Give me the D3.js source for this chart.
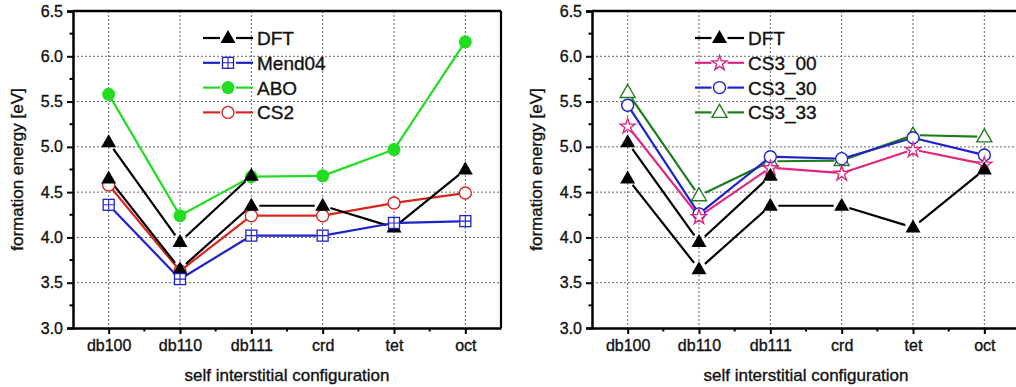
<!DOCTYPE html>
<html>
<head>
<meta charset="utf-8">
<script src="https://cdn.jsdelivr.net/npm/d3@7"></script>
<title>formation energy</title>
<style>
body { margin: 0; background: #fff; }
text { font-family: "Liberation Sans", Arial, sans-serif; fill: #111; stroke: #111; stroke-width: 0.35px; }
</style>
</head>
<body>
<script>

// data
var categories = ["db100", "db110", "db111", "crd", "tet", "oct"];
var yTickValues = [3.0, 3.5, 4.0, 4.5, 5.0, 5.5, 6.0, 6.5];

var dft     = [4.65, 3.65, 4.35, 4.35, 4.11, 4.75];
var dftHigh = [5.05, 3.95, 4.68, null, null, null];

var mend04 = [4.36, 3.54, 4.02, 4.02, 4.16, 4.18];
var abo    = [5.58, 4.24, 4.67, 4.68, 4.97, 6.16];
var cs2    = [4.58, 3.63, 4.24, 4.24, 4.38, 4.49];

var cs3_00 = [5.23, 4.23, 4.77, 4.71, 4.97, 4.81];
var cs3_30 = [5.46, 4.26, 4.89, 4.87, 5.10, 4.91];
var cs3_33 = [5.60, 4.46, 4.84, 4.85, 5.13, 5.11];

var width = 1016,
    height = 387;

var svg = d3.select("body")
  .append("svg")
  .attr("width", width)
  .attr("height", height);

// marker drawing
function marker(g, type, color, x, y) {
  if (type == "tri") {
    g.append("path")
      .attr("d", "M" + x + "," + (y - 8) + "L" + (x + 7.5) + "," + (y + 5) + "L" + (x - 7.5) + "," + (y + 5) + "Z")
      .attr("fill", color);
  } else if (type == "triOpen") {
    g.append("path")
      .attr("d", "M" + x + "," + (y - 8) + "L" + (x + 7.5) + "," + (y + 5) + "L" + (x - 7.5) + "," + (y + 5) + "Z")
      .attr("fill", "#fff").attr("stroke", color).attr("stroke-width", 1.4);
  } else if (type == "dot") {
    g.append("circle").attr("cx", x).attr("cy", y).attr("r", 6.5).attr("fill", color);
  } else if (type == "circle") {
    g.append("circle").attr("cx", x).attr("cy", y).attr("r", 6)
      .attr("fill", "#fff").attr("stroke", color).attr("stroke-width", 1.4);
  } else if (type == "sqplus") {
    g.append("rect").attr("x", x - 5.5).attr("y", y - 5.5).attr("width", 11).attr("height", 11)
      .attr("fill", "#fff").attr("stroke", color).attr("stroke-width", 1.3);
    g.append("path")
      .attr("d", "M" + (x - 5.5) + "," + y + "H" + (x + 5.5) + "M" + x + "," + (y - 5.5) + "V" + (y + 5.5))
      .attr("stroke", color).attr("stroke-width", 1.1);
  } else if (type == "star") {
    g.append("path")
      .attr("d", d3.symbol(d3.symbolStar, 70)())
      .attr("transform", "translate(" + x + "," + (y + 0.5) + ")")
      .attr("fill", "#fff").attr("stroke", color).attr("stroke-width", 1.4);
  }
}

// line between points, with a small gap round each marker
function gapLine(g, pts, color, gap) {
  for (var i = 0; i < pts.length - 1; i++) {
    var a = pts[i], b = pts[i + 1];
    if (!a || !b) continue;
    var dx = b[0] - a[0], dy = b[1] - a[1];
    var len = Math.sqrt(dx * dx + dy * dy);
    var ux = dx / len, uy = dy / len;
    g.append("line")
      .attr("x1", a[0] + ux * gap).attr("y1", a[1] + uy * gap)
      .attr("x2", b[0] - ux * gap).attr("y2", b[1] - uy * gap)
      .attr("stroke", color).attr("stroke-width", 2.2);
  }
}

function drawPanel(p) {
  var g = svg.append("g");

  var x = d3.scaleLinear().domain([-0.5, 5.5]).range([p.x0, p.x1]);
  var y = d3.scaleLinear().domain([3.0, 6.5]).range([328, 11]);

  // grid
  g.selectAll(".vgrid")
    .data(categories)
    .enter().append("line")
    .attr("x1", function(d, i) { return x(i); })
    .attr("x2", function(d, i) { return x(i); })
    .attr("y1", y(6.5)).attr("y2", y(3.0))
    .attr("stroke", "#666").attr("stroke-width", 1).attr("stroke-dasharray", "2,2");

  g.selectAll(".hgrid")
    .data(yTickValues.filter(function(v) { return v > 3.0 && v < 6.5; }))
    .enter().append("line")
    .attr("x1", p.x0).attr("x2", p.x1)
    .attr("y1", function(d) { return y(d); })
    .attr("y2", function(d) { return y(d); })
    .attr("stroke", "#666").attr("stroke-width", 1).attr("stroke-dasharray", "2,2");

  // frame
  g.append("line").attr("x1", p.x0).attr("x2", p.x1).attr("y1", y(6.5)).attr("y2", y(6.5))
    .attr("stroke", "#000").attr("stroke-width", 2.5);
  g.append("line").attr("x1", p.x1).attr("x2", p.x1).attr("y1", y(6.5)).attr("y2", y(3.0))
    .attr("stroke", "#000").attr("stroke-width", 2.2);

  // y axis
  var yAxis = d3.axisLeft(y)
    .tickValues(yTickValues)
    .tickFormat(d3.format(".1f"))
    .tickSize(6)
    .tickPadding(4);
  var ya = g.append("g").attr("transform", "translate(" + p.x0 + ",0)").call(yAxis);
  ya.select(".domain").attr("stroke-width", 2.5);
  ya.selectAll(".tick line").attr("stroke-width", 2);
  ya.selectAll("text").style("font-size", "16px").style("font-family", "Liberation Sans, Arial, sans-serif")
    .attr("fill", "#111").attr("stroke", "#111").attr("stroke-width", 0.5);

  var yMinor = d3.range(3.25, 6.5, 0.5);
  g.selectAll(".yminor")
    .data(yMinor)
    .enter().append("line")
    .attr("x1", p.x0 - 3.5).attr("x2", p.x0)
    .attr("y1", function(d) { return y(d); })
    .attr("y2", function(d) { return y(d); })
    .attr("stroke", "#000").attr("stroke-width", 2);

  // x axis
  var xAxis = d3.axisBottom(x)
    .tickValues(d3.range(categories.length))
    .tickFormat(function(i) { return categories[i]; })
    .tickSize(6)
    .tickSizeOuter(0)
    .tickPadding(6);
  var xa = g.append("g").attr("transform", "translate(0," + y(3.0) + ")").call(xAxis);
  xa.select(".domain").attr("stroke-width", 2.5);
  xa.selectAll(".tick line").attr("stroke-width", 2);
  xa.selectAll("text").style("font-size", "16px").style("font-family", "Liberation Sans, Arial, sans-serif")
    .attr("fill", "#111").attr("stroke", "#111").attr("stroke-width", 0.35);

  g.selectAll(".xminor")
    .data(d3.range(0.5, 5, 1))
    .enter().append("line")
    .attr("x1", function(d) { return x(d); })
    .attr("x2", function(d) { return x(d); })
    .attr("y1", y(3.0)).attr("y2", y(3.0) + 3.5)
    .attr("stroke", "#000").attr("stroke-width", 2);

  // titles
  g.append("text")
    .attr("x", (p.x0 + p.x1) / 2).attr("y", 381)
    .attr("text-anchor", "middle")
    .style("font-size", "17px")
    .text("self interstitial configuration");

  g.append("text")
    .attr("transform", "translate(" + (p.x0 - 50) + "," + ((y(3.0) + y(6.5)) / 2) + ") rotate(-90)")
    .attr("text-anchor", "middle")
    .style("font-size", "17px")
    .text("formation energy [eV]");

  // series
  p.series.forEach(function(s) {
    var pts = s.values.map(function(v, i) { return v == null ? null : [x(i), y(v)]; });
    gapLine(g, pts, s.color, s.gap);
  });
  p.series.forEach(function(s) {
    s.values.forEach(function(v, i) {
      if (v != null) marker(g, s.marker, s.color, x(i), y(v));
    });
  });

  // legend
  p.legend.forEach(function(s, k) {
    var ly = 38 + k * 24.8;
    var mx = (p.lx0 + p.lx1) / 2;
    g.append("line").attr("x1", p.lx0).attr("x2", mx - 8).attr("y1", ly).attr("y2", ly)
      .attr("stroke", s.color).attr("stroke-width", 2.2);
    g.append("line").attr("x1", mx + 8).attr("x2", p.lx1).attr("y1", ly).attr("y2", ly)
      .attr("stroke", s.color).attr("stroke-width", 2.2);
    marker(g, s.marker, s.color, mx, ly);
    g.append("text")
      .attr("x", p.lx1 + 4).attr("y", ly + 7)
      .style("font-size", "19px")
      .text(s.name);
  });
}

var black = "#000000",
    blue = "#1f22c8",
    green = "#22dd22",
    red = "#d8261e",
    pink = "#e0267e",
    dkgreen = "#1d7d1d";

var sDft  = { name: "DFT", values: dft, color: black, marker: "tri", gap: 8 };
var sDft2 = { name: "DFT", values: dftHigh, color: black, marker: "tri", gap: 8 };

drawPanel({
  x0: 73, x1: 501, lx0: 203, lx1: 253,
  series: [
    { name: "ABO", values: abo, color: green, marker: "dot", gap: 5 },
    { name: "CS2", values: cs2, color: red, marker: "circle", gap: 6 },
    sDft, sDft2,
    { name: "Mend04", values: mend04, color: blue, marker: "sqplus", gap: 6 }
  ],
  legend: [
    sDft,
    { name: "Mend04", color: blue, marker: "sqplus" },
    { name: "ABO", color: green, marker: "dot" },
    { name: "CS2", color: red, marker: "circle" }
  ]
});

drawPanel({
  x0: 592, x1: 1020, lx0: 695, lx1: 744,
  series: [
    { name: "CS3_33", values: cs3_33, color: dkgreen, marker: "triOpen", gap: 7 },
    { name: "CS3_30", values: cs3_30, color: blue, marker: "circle", gap: 6 },
    { name: "CS3_00", values: cs3_00, color: pink, marker: "star", gap: 6 },
    sDft, sDft2
  ],
  legend: [
    sDft,
    { name: "CS3_00", color: pink, marker: "star" },
    { name: "CS3_30", color: blue, marker: "circle" },
    { name: "CS3_33", color: dkgreen, marker: "triOpen" }
  ]
});

</script>
</body>
</html>
